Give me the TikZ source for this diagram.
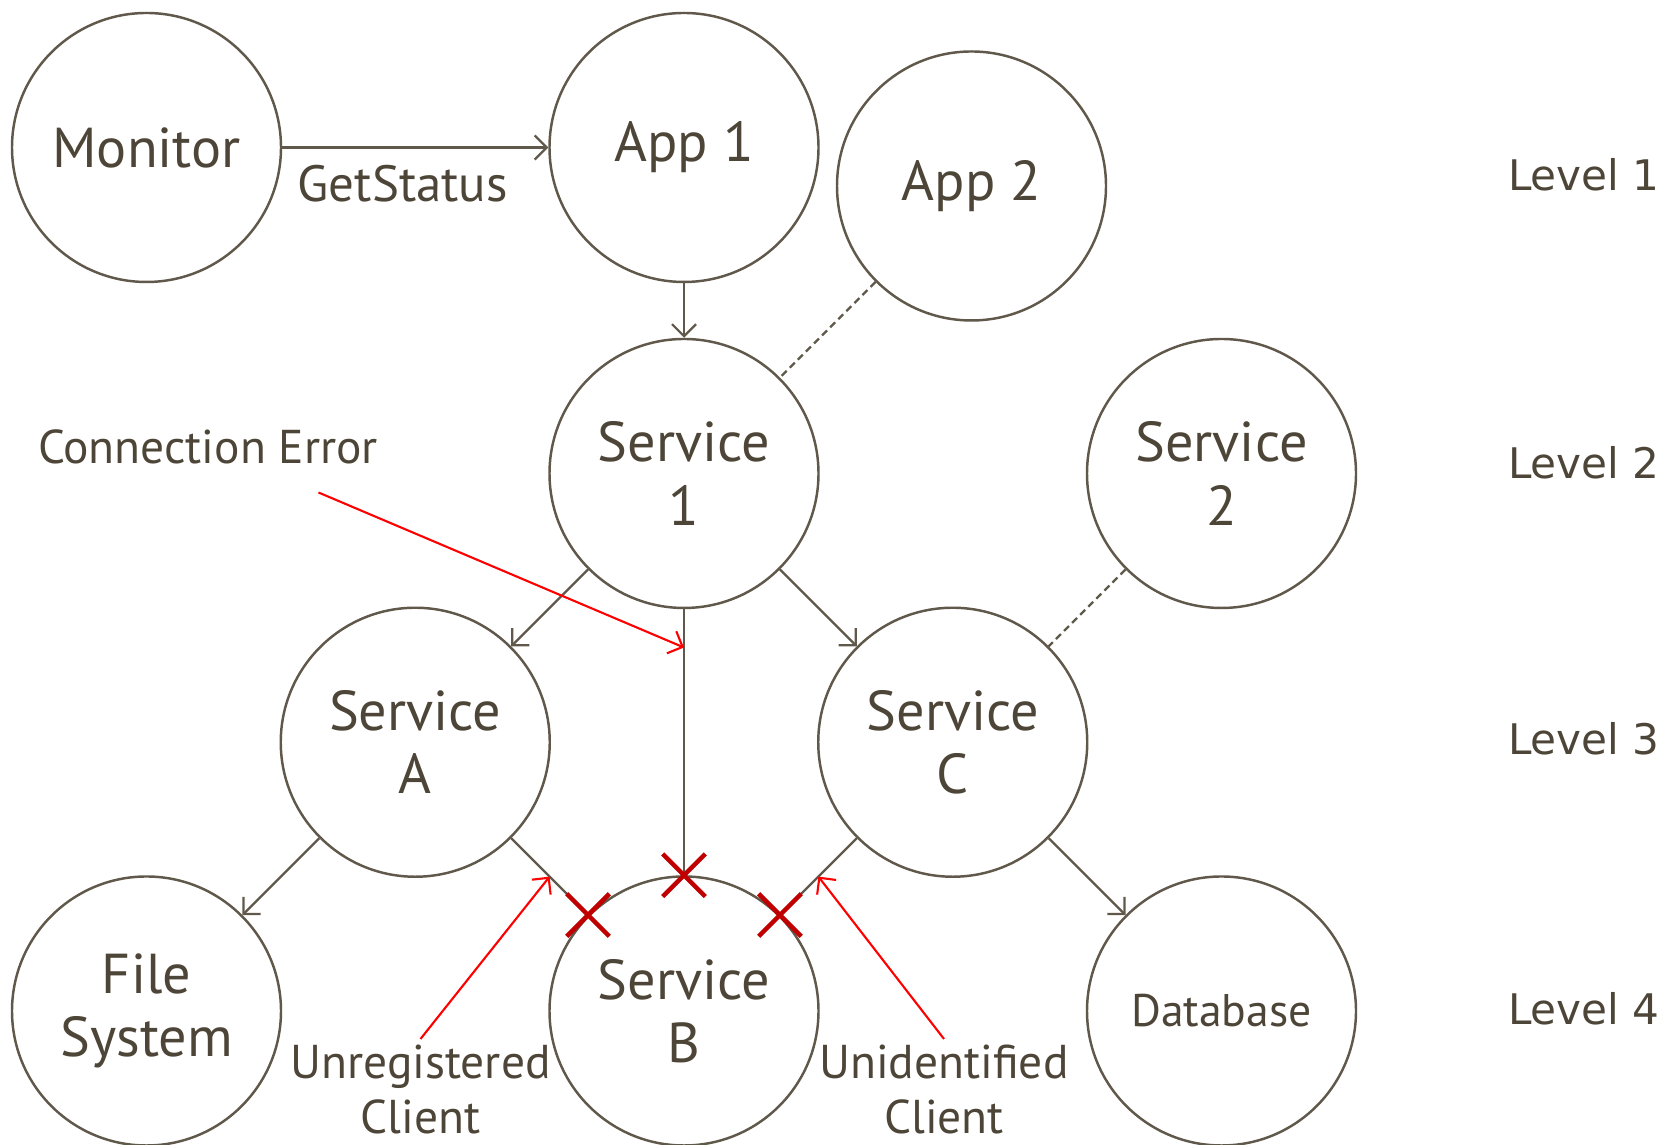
\documentclass[tikz,border=0pt]{standalone}
\usepackage{fontspec}
\setmainfont{PT Sans}
\newfontfamily\levelfont{DejaVu Sans}
\usetikzlibrary{arrows.meta,calc,shapes.misc}
\definecolor{inkbrown}{RGB}{77,70,56}
\definecolor{edgebrown}{RGB}{96,88,74}
\definecolor{crossred}{RGB}{192,0,0}

\begin{document}
\begin{tikzpicture}[
    proc/.style={circle, draw=edgebrown, line width=1.4pt, minimum size=5.38cm, inner sep=0pt,
        align=center, text=inkbrown, font=\fontsize{32}{36}\selectfont},
    call/.style={draw=edgebrown, line width=1.25pt, -{Straight Barb[length=2.4mm,width=4.8mm]}},
    link/.style={draw=edgebrown, line width=1.25pt},
    weak/.style={draw=edgebrown, line width=1.25pt, dash pattern=on 4pt off 2.5pt},
    note/.style={text=inkbrown, align=center, font=\fontsize{27}{31}\selectfont},
    pointer/.style={draw=red, line width=1.2pt, -{Straight Barb[length=2.4mm,width=4.8mm]}},
    blocked/.style={cross out, draw=crossred, line width=2.6pt, minimum size=0.76cm, inner sep=0pt},
    levelname/.style={text=inkbrown, anchor=east, inner sep=0pt, font=\levelfont\fontsize{24}{28}\selectfont}
]
    \def\colA{2.93}
    \def\colB{8.305}
    \def\colC{13.68}
    \def\colD{19.055}
    \def\colE{24.43}
    \useasboundingbox (0,0) rectangle (33.3,22.9);

    % Nodes
    \node[proc] (monitor) at (\colA,19.95) {Monitor};
    \node[proc] (app1) at (\colC,19.95) {App 1};
    \node[proc] (app2) at (19.43,19.18) {App 2};
    \node[proc] (svc1) at (\colC,13.43) {Service\\1};
    \node[proc] (svc2) at (\colE,13.43) {Service\\2};
    \node[proc] (svcA) at (\colB,8.055) {Service\\A};
    \node[proc] (svcC) at (\colD,8.055) {Service\\C};
    \node[proc] (files) at (\colA,2.68) {File\\System};
    \node[proc] (svcB) at (\colC,2.68) {Service\\B};
    \node[proc, font=\fontsize{26}{30}\selectfont] (db) at (\colE,2.68) {Database};

    % Calls
    \draw[call] (monitor) -- node[note, below=6pt, xshift=-0.25cm, font=\fontsize{29}{33}\selectfont] (getstatus) {GetStatus} (app1);
    \draw[call] (app1) -- (svc1);
    \draw[weak] (app2) -- (svc1);
    \draw[call] (svc1) -- (svcA);
    \draw[call] (svc1) -- (svcC);
    \draw[link] (svc1) -- (svcB);
    \draw[weak] (svc2) -- (svcC);
    \draw[call] (svcA) -- (files);
    \draw[link] (svcA) -- (svcB);
    \draw[link] (svcC) -- (svcB);
    \draw[call] (svcC) -- (db);

    % Failed connections
    \node[blocked] (failtop) at (svcB.north) {};
    \node[blocked] (failleft) at (svcB.north west) {};
    \node[blocked] (failright) at (svcB.north east) {};

    % Annotations
    \node[note] (connerr) at (4.16,13.96) {Connection Error};
    \node[note] (unreg) at (8.41,1.11) {Unregistered\\Client};
    \node[note] (unident) at (18.88,1.11) {Unidentified\\Client};
    \coordinate (errtail) at (6.37,13.05);
    \draw[pointer] (errtail) -- ($(svc1.south)!0.144!(svcB.north)$);
    \draw[pointer] (unreg.north) -- ($(svcA)!0.5!(svcB)$);
    \draw[pointer] (unident.north) -- ($(svcC)!0.5!(svcB)$);

    % Levels
    \foreach \i/\y in {1/19.40, 2/13.64, 3/8.12, 4/2.72} {
        \node[levelname] (level\i) at (33.2,\y) {Level \i};
    }
\end{tikzpicture}
\end{document}
